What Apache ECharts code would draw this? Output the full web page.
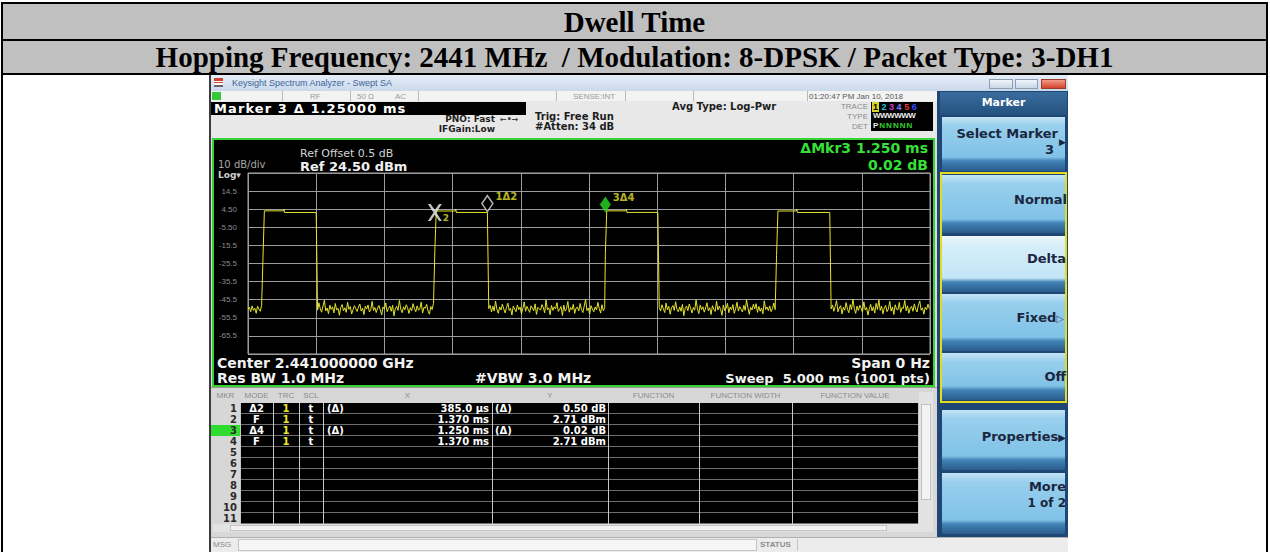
<!DOCTYPE html>
<html>
<head>
<meta charset="utf-8">
<script src="https://cdn.jsdelivr.net/npm/echarts@6/dist/echarts.min.js"></script>
<style>
  html, body { margin: 0; padding: 0; background: #fff; }
  body { width: 1270px; height: 552px; position: relative; overflow: hidden; font-family: "DejaVu Sans", sans-serif; }
  .abs { position: absolute; }
  .t { position: absolute; white-space: pre; }
  .hdr { position: absolute; left: 3px; width: 1263px; background: #c0c0c0; text-align: center; color: #000;
         font-family: "Liberation Serif", "Times New Roman", serif; font-weight: bold; font-size: 29px; white-space: pre; }
  .bar { position: absolute; background: #000; }
  .info { position: absolute; white-space: pre; font: bold 10px "DejaVu Sans"; color: #1e1e1e; line-height: 11px; }
  .stat { position: absolute; white-space: pre; font: 8px "Liberation Sans"; color: #9a9a9a; top: 92px; line-height: 9px; }
  .sep { position: absolute; top: 91px; width: 1px; height: 10px; background: #b8b8b8; }
  .sk { position: absolute; left: 942px; width: 123px;
        background: linear-gradient(to bottom, #c3e4f6 0px, #98cfed 9px, #80c2e7 calc(100% - 14px), #4282b6 calc(100% - 10px), #2a5b8c 100%); }
  .sk.hi { background: linear-gradient(to bottom, #eef8fd 0px, #d6eef9 9px, #c2e5f6 calc(100% - 14px), #4282b6 calc(100% - 10px), #2a5b8c 100%); }
  .skt { position: absolute; white-space: pre; font: bold 13px "DejaVu Sans"; color: #1b2640; line-height: 14px; }
  .th { position: absolute; top: 391px; height: 11px; line-height: 11px; font: 8px "Liberation Sans"; color: #8c8c8c; text-align: center; }
  .cell { position: absolute; height: 11px; line-height: 11px; font: bold 10px "DejaVu Sans"; color: #fff; white-space: pre; }
  #screen { position: absolute; left: 214px; top: 140px; width: 719px; height: 245px; }
</style>
</head>
<body>
<!-- report table header -->
<div class="abs" style="left:1px;top:2px;width:1267px;height:2px;background:#000"></div>
<div class="hdr" style="top:4px;height:35px;line-height:36px">Dwell Time</div>
<div class="abs" style="left:1px;top:39px;width:1267px;height:2px;background:#000"></div>
<div class="hdr" style="top:41px;height:32px;line-height:33px">Hopping Frequency: 2441 MHz  / Modulation: 8-DPSK / Packet Type: 3-DH1</div>
<div class="abs" style="left:1px;top:73px;width:1267px;height:2px;background:#000"></div>
<div class="abs" style="left:1px;top:2px;width:2px;height:550px;background:#000"></div>
<div class="abs" style="left:1266px;top:2px;width:2px;height:550px;background:#000"></div>

<!-- analyzer window -->
<div class="abs" style="left:209px;top:75px;width:859px;height:477px;background:#d9d9d9;border-left:2px solid #3c3c3c;box-sizing:border-box"></div>
<div class="abs" style="left:211px;top:75px;width:857px;height:16px;background:linear-gradient(#e6eef8,#cad9ea)"></div>
<div class="abs" style="left:214px;top:78px;width:9px;height:9px;background:linear-gradient(#c43 0 30%,#fff 30% 45%,#c43 45% 60%,#fff 60% 75%,#666 75%)"></div>
<div class="t" style="left:232px;top:78px;font:9px 'Liberation Sans';color:#3d639a">Keysight Spectrum Analyzer - Swept SA</div>
<div class="abs" style="left:989px;top:79px;width:24px;height:10px;background:linear-gradient(#f1f5fa,#c9d6e6);border:1px solid #8d9db3;box-sizing:border-box"></div>
<div class="abs" style="left:1015px;top:79px;width:23px;height:10px;background:linear-gradient(#f1f5fa,#c9d6e6);border:1px solid #8d9db3;box-sizing:border-box"></div>
<div class="abs" style="left:1041px;top:79px;width:25px;height:10px;background:linear-gradient(#f19a86,#d3442e);border:1px solid #9a3b2b;box-sizing:border-box"></div>

<!-- status row -->
<div class="abs" style="left:211px;top:91px;width:726px;height:10px;background:#f3f3f3"></div>
<div class="abs" style="left:212px;top:92px;width:9px;height:8px;background:#37c837"></div>
<div class="sep" style="left:282px"></div><div class="sep" style="left:350px"></div><div class="sep" style="left:418px"></div>
<div class="sep" style="left:556px"></div><div class="sep" style="left:625px"></div><div class="sep" style="left:693px"></div><div class="sep" style="left:807px"></div>
<div class="stat" style="left:310px">RF</div>
<div class="stat" style="left:357px">50 Ω</div>
<div class="stat" style="left:395px">AC</div>
<div class="stat" style="left:573px">SENSE:INT</div>
<div class="stat" style="left:809px;color:#555">01:20:47 PM Jan 10, 2018</div>

<!-- settings panel -->
<div class="abs" style="left:211px;top:101px;width:726px;height:37px;background:#e8e8e8"></div>
<div class="bar" style="left:211px;top:102px;width:315px;height:13px"></div>
<div class="t" style="left:214px;top:101px;font:bold 13px 'DejaVu Sans';color:#fff;line-height:15px;letter-spacing:1.1px">Marker 3 Δ 1.25000 ms</div>
<div class="info" style="right:775px;top:114px;font-size:9px">PNO: Fast</div>
<div class="info" style="left:500px;top:114px;font-size:8px;color:#444">←•→</div>
<div class="info" style="right:775px;top:124px;font-size:9px">IFGain:Low</div>
<div class="info" style="left:535px;top:111px">Trig: Free Run</div>
<div class="info" style="left:535px;top:121px">#Atten: 34 dB</div>
<div class="info" style="left:672px;top:101px">Avg Type: Log-Pwr</div>
<div class="stat" style="right:402px;top:102px;color:#8a8a8a">TRACE</div>
<div class="stat" style="right:402px;top:112px;color:#8a8a8a">TYPE</div>
<div class="stat" style="right:402px;top:122px;color:#8a8a8a">DET</div>
<div class="bar" style="left:871px;top:102px;width:62px;height:29px"></div>
<div class="t" style="left:872px;top:102px;font:bold 9px 'Liberation Sans';line-height:10px"><span style="background:#d8d820;color:#000;padding:0 1px">1</span> <span style="color:#2bc4d8">2</span> <span style="color:#d23cd2">3</span> <span style="color:#7d7dff">4</span> <span style="color:#e83a3a">5</span> <span style="color:#3a4cff">6</span></div>
<div class="t" style="left:873px;top:111px;font:bold 8px 'Liberation Sans';line-height:10px;color:#eee;letter-spacing:-0.5px">WWWWWW</div>
<div class="t" style="left:873px;top:121px;font:bold 8px 'Liberation Sans';line-height:10px;color:#eee;letter-spacing:1px">P<span style="color:#2fd22f">NNNNN</span></div>

<!-- display -->
<div class="abs" style="left:212px;top:138px;width:723px;height:249px;border:2px solid #35d435;box-sizing:border-box;background:#000"></div>
<div id="screen"></div>

<!-- marker table -->
<div class="abs" style="left:211px;top:387px;width:726px;height:151px;background:#d7d7d7;border-top:1px solid #9a9a9a;box-sizing:border-box"></div>
<div id="table"></div>

<!-- softkeys -->
<div class="abs" style="left:937px;top:91px;width:131px;height:447px;background:#1f4775"></div>
<div class="abs" style="left:940px;top:92px;width:127px;height:23px;background:linear-gradient(#3a6c9e,#25527f)"></div>
<div class="t" style="left:940px;top:96px;width:127px;text-align:center;font:bold 11px 'DejaVu Sans';color:#fff">Marker</div>
<div class="sk" style="top:117px;height:54px"></div>
<div class="skt" style="right:212px;top:127px">Select Marker</div>
<div class="skt" style="right:204px;top:135px;font-size:9px">▶</div>
<div class="skt" style="right:216px;top:143px">3</div>
<div class="abs" style="left:940px;top:172px;width:127px;height:231px;border:2px solid #e4dc1c;box-sizing:border-box"></div>
<div class="sk" style="top:175px;height:58px"></div>
<div class="skt" style="right:203px;top:193px">Normal</div>
<div class="sk hi" style="top:236px;height:56px"></div>
<div class="skt" style="right:204px;top:252px">Delta</div>
<div class="sk" style="top:294px;height:57px"></div>
<div class="skt" style="right:206px;top:311px">Fixed<span style="font-size:10px;color:#4a5a78">▷</span></div>
<div class="sk" style="top:353px;height:47px"></div>
<div class="skt" style="right:204px;top:370px">Off</div>
<div class="sk" style="top:410px;height:60px"></div>
<div class="skt" style="right:204px;top:430px">Properties<span style="font-size:10px">▶</span></div>
<div class="sk" style="top:473px;height:61px"></div>
<div class="skt" style="right:204px;top:480px">More</div>
<div class="skt" style="right:204px;top:496px;font-size:12px">1 of 2</div>

<!-- message bar -->
<div class="abs" style="left:211px;top:537px;width:857px;height:15px;background:#ececec;border-top:1px solid #b0b0b0;box-sizing:border-box"></div>
<div class="abs" style="left:238px;top:539px;width:519px;height:12px;background:#f6f6f6;border:1px solid #c4c4c4;box-sizing:border-box"></div>
<div class="t" style="left:213px;top:540px;font:8px 'Liberation Sans';color:#8a8a8a">MSG</div>
<div class="t" style="left:760px;top:540px;font:bold 8px 'Liberation Sans';color:#8a8a8a">STATUS</div>
<div class="abs" style="left:797px;top:539px;width:1px;height:12px;background:#c4c4c4"></div>

<script>
// trace: 5 ms sweep, values in dBm
const sweepStep = 0.01;
const yMin = -75.5;
const yMax = 24.5;
const yTickLabels = ['', '-65.5', '-55.5', '-45.5', '-35.5', '-25.5', '-15.5', '-5.50', '4.50', '14.5', ''];

const pulseRise = [0.11, 1.37, 2.62, 3.875];
const pulseBump = [0.26, 1.52, 2.77, 4.02];
const pulseFall = [0.50, 1.755, 3.005, 4.265];
const pulseHigh = [3.6, 3.5, 3.6, 3.5];
const pulseLow = [2.7, 2.71, 2.73, 2.7];
const pulseEdge = [-22, -18, -20, -21];

const noiseStart = [0.00, 0.51, 1.765, 3.015, 4.275];
const noise0 = [-50.8,-49.6,-52.1,-48.9,-51.4,-50.2,-53.0,-49.1,-50.7,-51.9,-48.6];
const noise1 = [
  -51.3,-47.2,-50.6,-52.4,-49.0,-45.8,-51.7,-50.1,-53.2,-48.5,
  -50.9,-49.4,-52.8,-47.6,-51.2,-50.3,-54.1,-49.7,-48.2,-51.6,
  -50.0,-52.5,-46.9,-50.8,-49.3,-53.4,-51.0,-48.8,-50.4,-52.0,
  -49.6,-47.9,-51.8,-50.2,-53.7,-49.1,-50.6,-48.4,-52.3,-50.9,
  -46.4,-51.5,-49.8,-52.6,-50.1,-48.7,-51.2,-53.9,-49.5,-50.7,
  -47.3,-52.1,-50.3,-49.0,-51.9,-48.6,-54.4,-50.5,-49.2,-51.4,
  -45.9,-50.8,-52.7,-49.4,-51.1,-48.3,-50.0,-53.1,-49.9,-51.6,
  -47.7,-50.4,-52.2,-48.9,-51.3,-50.6,-46.8,-52.9,-49.7,-50.2,
  -48.1,-51.8,-53.5,-49.3,-50.9,-47.5];
const noise2 = [
  -50.4,-48.6,-52.3,-49.1,-51.7,-46.2,-50.9,-53.0,-49.5,-51.2,
  -48.0,-50.6,-52.8,-49.8,-47.4,-51.5,-50.2,-54.0,-49.0,-50.7,
  -52.1,-48.4,-51.0,-49.6,-53.3,-50.3,-46.7,-51.9,-49.2,-50.8,
  -52.5,-48.9,-50.1,-51.6,-47.8,-53.6,-49.7,-50.5,-51.3,-48.2,
  -49.9,-52.7,-45.6,-51.1,-50.0,-53.8,-48.7,-51.4,-49.4,-50.6,
  -47.1,-52.0,-50.8,-49.3,-54.2,-48.5,-51.8,-50.4,-46.5,-52.4,
  -49.8,-51.0,-48.1,-53.1,-50.2,-49.6,-51.7,-47.6,-50.9,-52.6,
  -49.0,-45.3,-51.5,-50.1,-53.4,-48.8,-50.7,-52.2,-49.5,-51.2,
  -47.0,-50.3,-52.9,-48.3,-51.6,-49.9];
const noise3 = [
  -49.7,-51.8,-48.3,-50.5,-52.6,-47.4,-51.1,-49.2,-53.5,-50.0,
  -48.7,-51.4,-46.6,-50.8,-52.2,-49.5,-51.9,-48.1,-54.3,-50.4,
  -49.0,-51.6,-47.9,-50.2,-52.8,-49.8,-51.3,-45.7,-50.6,-53.2,
  -48.5,-51.0,-49.4,-52.4,-50.1,-47.2,-51.7,-49.9,-53.7,-48.8,
  -50.7,-52.0,-46.3,-51.2,-49.1,-50.9,-54.1,-48.4,-51.5,-50.3,
  -47.5,-52.7,-49.6,-51.0,-48.2,-53.0,-50.5,-46.9,-51.8,-49.3,
  -50.8,-52.3,-48.6,-51.4,-45.4,-50.0,-53.6,-49.7,-51.2,-48.0,
  -50.6,-47.7,-52.5,-49.2,-51.9,-50.1,-53.3,-46.1,-50.9,-49.5,
  -51.6,-48.9,-52.1,-50.4,-47.3,-51.0];
const noise4 = [
  -50.6,-48.4,-51.9,-49.3,-46.0,-52.2,-50.1,-48.8,-53.4,-49.6,
  -51.3,-47.1,-50.7,-52.7,-48.2,-51.0,-45.2,-50.4,-53.1,-49.0,
  -51.5,-48.6,-50.2,-52.4,-46.7,-51.2,-49.8,-54.0,-50.5,-48.1,
  -51.7,-49.4,-52.9,-47.5,-50.9,-45.6,-51.4,-49.1,-53.3,-50.0,
  -48.7,-52.1,-50.6,-46.4,-51.8,-49.5,-53.7,-48.3,-50.8,-51.1,
  -47.0,-52.5,-49.9,-50.3,-45.9,-51.6,-48.9,-53.0,-50.2,-49.2,
  -51.9,-47.8,-50.7,-52.3,-48.5,-46.2,-51.3,-50.0,-53.5,-49.7,
  -51.0,-48.0,-50.4];
const noiseSegs = [noise0, noise1, noise2, noise3, noise4];

// markers
const diamondNames = ['1Δ2', '3Δ4'];
const diamondTimes = [1.755, 2.62];
const diamondLevels = [3.21, 2.73];
const fixedName = '2';
const fixedTime = 1.37;
const fixedLevel = 2.71;

// marker table
const mkrNums = ['1', '2', '3', '4', '5', '6', '7', '8', '9', '10', '11'];
const mkrMode = ['Δ2', 'F', 'Δ4', 'F'];
const mkrTrace = ['1', '1', '1', '1'];
const mkrScale = ['t', 't', 't', 't'];
const mkrXRel = ['(Δ)', '', '(Δ)', ''];
const mkrXVal = ['385.0 µs', '1.370 ms', '1.250 ms', '1.370 ms'];
const mkrYRel = ['(Δ)', '', '(Δ)', ''];
const mkrYVal = ['0.50 dB', '2.71 dBm', '0.02 dB', '2.71 dBm'];
const tableHeads = ['MKR', 'MODE', 'TRC', 'SCL', 'X', 'Y', 'FUNCTION', 'FUNCTION WIDTH', 'FUNCTION VALUE'];

// build trace
const trace = [];
noiseSegs.forEach((seg, k) => {
  seg.forEach((v, i) => trace.push([noiseStart[k] + i * sweepStep, v]));
  if (k < pulseRise.length) {
    trace.push([pulseRise[k], pulseEdge[k]]);
    trace.push([pulseRise[k] + 0.01, pulseHigh[k]]);
    trace.push([pulseBump[k], pulseHigh[k]]);
    trace.push([pulseBump[k] + 0.004, pulseHigh[k] + 1.0]);
    trace.push([pulseBump[k] + 0.008, pulseLow[k]]);
    trace.push([pulseFall[k], pulseLow[k]]);
  }
});

// table
(function buildTable() {
  const box = document.getElementById('table');
  const cols = [211, 240, 273, 299, 323, 492, 608, 699, 792, 918];
  const top0 = 403, rowH = 11;
  let html = '';
  tableHeads.forEach((h, c) => {
    html += `<div class="th" style="left:${cols[c]}px;width:${cols[c + 1] - cols[c]}px">${h}</div>`;
  });
  html += `<div class="bar" style="left:240px;top:${top0}px;width:678px;height:${rowH * mkrNums.length}px"></div>`;
  mkrNums.forEach((n, r) => {
    const y = top0 + r * rowH;
    const bg = r === 2 ? '#2fdc2f' : '#d7d7d7';
    html += `<div class="cell" style="left:211px;top:${y}px;width:26px;padding-right:3px;text-align:right;background:${bg};color:#2a2a2a">${n}</div>`;
    html += `<div class="abs" style="left:240px;top:${y + rowH - 1}px;width:678px;height:1px;background:#6e6e6e"></div>`;
    if (r < mkrMode.length) {
      html += `<div class="cell" style="left:240px;top:${y}px;width:33px;text-align:center">${mkrMode[r]}</div>`;
      html += `<div class="cell" style="left:273px;top:${y}px;width:26px;text-align:center;color:#e8e82a">${mkrTrace[r]}</div>`;
      html += `<div class="cell" style="left:299px;top:${y}px;width:24px;text-align:center">${mkrScale[r]}</div>`;
      html += `<div class="cell" style="left:327px;top:${y}px">${mkrXRel[r]}</div>`;
      html += `<div class="cell" style="right:${1270 - 489}px;top:${y}px">${mkrXVal[r]}</div>`;
      html += `<div class="cell" style="left:495px;top:${y}px">${mkrYRel[r]}</div>`;
      html += `<div class="cell" style="right:${1270 - 606}px;top:${y}px">${mkrYVal[r]}</div>`;
    }
  });
  cols.slice(1).forEach(x => {
    html += `<div class="abs" style="left:${x}px;top:${top0}px;width:1px;height:${rowH * mkrNums.length}px;background:#c8c8c8"></div>`;
  });
  // scrollbars
  html += `<div class="abs" style="left:919px;top:392px;width:14px;height:132px;background:#e2e2e2"></div>`;
  html += `<div class="abs" style="left:921px;top:404px;width:10px;height:96px;background:#f2f2f2;border:1px solid #c2c2c2;box-sizing:border-box"></div>`;
  html += `<div class="abs" style="left:213px;top:524px;width:720px;height:8px;background:#e2e2e2"></div>`;
  html += `<div class="abs" style="left:230px;top:525px;width:657px;height:6px;background:#f2f2f2;border:1px solid #c2c2c2;box-sizing:border-box"></div>`;
  box.innerHTML = html;
})();

const chart = echarts.init(document.getElementById('screen'), null, { renderer: 'svg' });

const txt = (x, y, text, font, fill, align) => ({
  type: 'text', x: x, y: y, silent: true,
  style: { text: text, font: font, fill: fill, align: align || 'left', textAlign: align || 'left',
           verticalAlign: 'middle', textVerticalAlign: 'middle' }
});
const dv = (w, s) => w + ' ' + s + 'px "DejaVu Sans"';

const option = {
  animation: false,
  backgroundColor: '#000',
  grid: { left: 34, top: 33, right: 3, bottom: 31, show: true, borderColor: '#a4a4a4', borderWidth: 1 },
  xAxis: {
    type: 'value', min: 0, max: 5, interval: 0.5,
    axisLine: { show: false }, axisTick: { show: false }, axisLabel: { show: false },
    splitLine: { show: true, lineStyle: { color: '#9c9c9c', width: 1 } }
  },
  yAxis: {
    type: 'value', min: yMin, max: yMax, interval: 10,
    axisLine: { show: false }, axisTick: { show: false },
    axisLabel: {
      color: '#8c8c8c', fontSize: 8, fontFamily: 'Liberation Sans', margin: 11,
      formatter: v => yTickLabels[Math.round((v - yMin) / 10)] || ''
    },
    splitLine: { show: true, lineStyle: { color: '#9c9c9c', width: 1 } }
  },
  series: [
    {
      type: 'line', data: trace, showSymbol: false, z: 2,
      lineStyle: { color: '#e4e42a', width: 1 }
    },
    {
      type: 'scatter', symbol: 'diamond', symbolSize: [11, 16], symbolOffset: [0, '-50%'], z: 4,
      data: diamondNames.map((n, i) => ({
        name: n, value: [diamondTimes[i], diamondLevels[i]],
        itemStyle: i === 0 ? { color: '#000', borderColor: '#e6e6e6', borderWidth: 1.5 } : { color: '#26dc26' }
      })),
      label: { show: true, formatter: '{b}', position: 'right', distance: 2, offset: [0, -7],
               color: '#e6e62e', fontSize: 10, fontWeight: 'bold', fontFamily: 'DejaVu Sans' }
    },
    {
      type: 'scatter', z: 4,
      symbol: 'path://M0,0 L2,0 L5,3.6 L8,0 L10,0 L6,5 L10,10 L8,10 L5,6.4 L2,10 L0,10 L4,5 Z',
      symbolSize: [14, 17],
      itemStyle: { color: '#f2f2f2' },
      data: [{ name: fixedName, value: [fixedTime, fixedLevel] }],
      label: { show: true, formatter: '{b}', position: 'right', distance: 1, offset: [0, 6],
               color: '#e6e62e', fontSize: 9, fontWeight: 'bold', fontFamily: 'DejaVu Sans' }
    }
  ],
  graphic: [
    txt(86, 13, 'Ref Offset 0.5 dB', dv('normal', 11), '#d4d4d4'),
    txt(4, 24, '10 dB/div', dv('normal', 10), '#a8a8a8'),
    txt(86, 26, 'Ref 24.50 dBm', dv('bold', 13), '#f0f0f0'),
    txt(4, 35, 'Log▾', dv('bold', 9), '#cfcfcf'),
    txt(714, 8, 'ΔMkr3 1.250 ms', dv('bold', 14), '#36e036', 'right'),
    txt(714, 25, '0.02 dB', dv('bold', 14), '#36e036', 'right'),
    txt(3, 223, 'Center 2.441000000 GHz', dv('bold', 14), '#f2f2f2'),
    txt(3, 238, 'Res BW 1.0 MHz', dv('bold', 14), '#f2f2f2'),
    txt(261, 238, '#VBW 3.0 MHz', dv('bold', 14), '#f2f2f2'),
    txt(716, 223, 'Span 0 Hz', dv('bold', 14), '#f2f2f2', 'right'),
    txt(716, 238, 'Sweep  5.000 ms (1001 pts)', dv('bold', 13), '#f2f2f2', 'right')
  ]
};
chart.setOption(option);
</script>
</body>
</html>
